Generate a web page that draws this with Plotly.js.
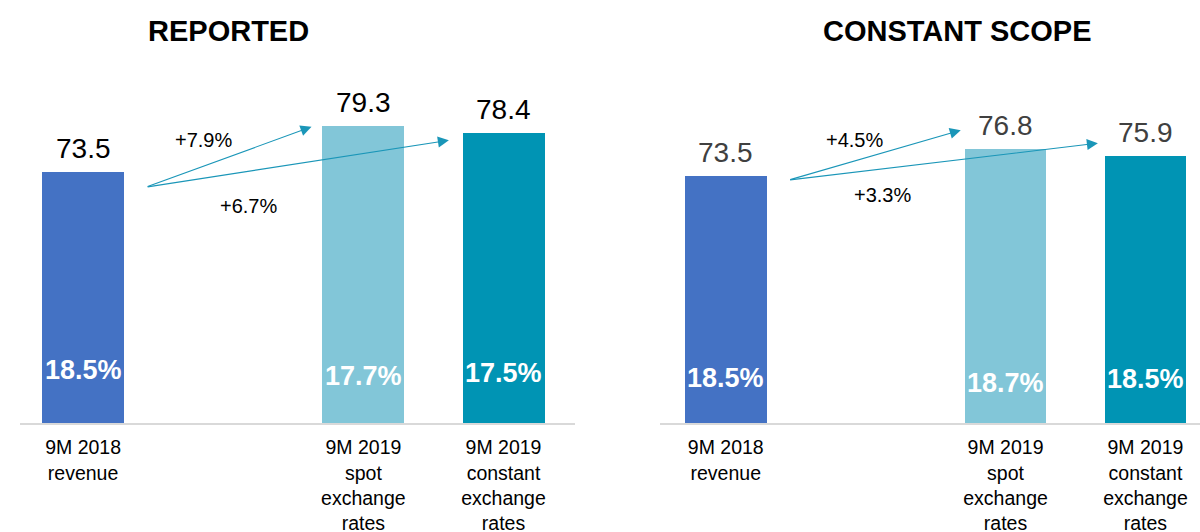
<!DOCTYPE html>
<html>
<head>
<meta charset="utf-8">
<script src="https://cdn.plot.ly/plotly-3.0.1.min.js"></script>
<style>html,body{margin:0;padding:0;background:#fff}#chart{width:1200px;height:532px}</style>
</head>
<body>
<div id="chart"></div>
<script>
// ---- data ----
const positions = [0, 2, 3];
const categories = ["9M 2018<br>revenue", "9M 2019<br>spot<br>exchange<br>rates", "9M 2019<br>constant<br>exchange<br>rates"];
const reportedRevenue = [73.5, 79.3, 78.4];
const reportedMargin = ["18.5%", "17.7%", "17.5%"];
const reportedGrowth = ["+7.9%", "+6.7%"];
const scopeRevenue = [73.5, 76.8, 75.9];
const scopeMargin = ["18.5%", "18.7%", "18.5%"];
const scopeGrowth = ["+4.5%", "+3.3%"];
const panelTitles = ["REPORTED", "CONSTANT SCOPE"];
const barColors = ["#4472c4", "#82c6d8", "#0094b4"];

const FONT = "Liberation Sans, Arial, sans-serif";
const arrowColor = "#1a96b8";

const traces = [
  {type: "bar", x: positions, y: reportedRevenue, width: 0.585, marker: {color: barColors},
   xaxis: "x", yaxis: "y", hoverinfo: "none"},
  {type: "bar", x: positions, y: scopeRevenue, width: 0.585, marker: {color: barColors},
   xaxis: "x2", yaxis: "y2", hoverinfo: "none"}
];

const ann = [];
function panel(xa, ya, vals, margins, growth, valColor, marginY, arrows, growthPos) {
  vals.forEach((v, i) => {
    ann.push({xref: xa, yref: ya, x: positions[i], y: v, text: v.toFixed(1), showarrow: false,
      yanchor: "bottom", yshift: 6, font: {family: FONT, size: 28, color: valColor}});
    ann.push({xref: xa, yref: ya + " domain", x: positions[i], y: marginY[i], text: "<b>" + margins[i] + "</b>",
      showarrow: false, yanchor: "middle", font: {family: FONT, size: 27, color: "#ffffff"}});
  });
  arrows.forEach((a, j) => {
    ann.push({xref: xa, yref: ya, axref: xa, ayref: ya, x: a[2], y: a[3], ax: a[0], ay: a[1],
      text: "", showarrow: true, arrowhead: 2, arrowsize: 2.0, arrowwidth: 1.1, arrowcolor: arrowColor});
    ann.push({xref: xa, yref: ya, x: growthPos[j][0], y: growthPos[j][1], text: growth[j], showarrow: false,
      font: {family: FONT, size: 20, color: "#000"}});
  });
}
panel("x", "y", reportedRevenue, reportedMargin, reportedGrowth, "#000000",
  [0.145, 0.13, 0.137],
  [[0.45, 71.6, 1.63, 79.2], [0.45, 71.6, 2.61, 77.5]],
  [[0.86, 77.5], [1.18, 69.2]]);
panel("x2", "y2", scopeRevenue, scopeMargin, scopeGrowth, "#404040",
  [0.125, 0.11, 0.12],
  [[0.45, 73.0, 1.68, 79.1], [0.45, 73.0, 2.66, 77.5]],
  [[0.92, 77.9], [1.12, 71.2]]);

const titleY = (423 - 31) / 363;
ann.push({xref: "paper", yref: "paper", x: 228/1200, y: titleY, text: "<b>" + panelTitles[0] + "</b>",
  showarrow: false, xanchor: "center", yanchor: "middle", font: {family: FONT, size: 29, color: "#000"}});
ann.push({xref: "paper", yref: "paper", x: 957/1200, y: titleY, text: "<b>" + panelTitles[1] + "</b>",
  showarrow: false, xanchor: "center", yanchor: "middle", font: {family: FONT, size: 29, color: "#000"}});

const xcommon = {tickvals: positions, ticktext: categories, showgrid: false, zeroline: false,
  showline: true, linecolor: "#d9d9d9", linewidth: 2, ticks: "", fixedrange: true, ticklabelstandoff: 6,
  tickfont: {family: FONT, size: 19.5, color: "#000"}};
const ycommon = {visible: false, showgrid: false, zeroline: false, fixedrange: true};

const layout = {
  width: 1200, height: 532, showlegend: false, bargap: 0,
  paper_bgcolor: "#fff", plot_bgcolor: "#fff",
  margin: {l: 0, r: 0, t: 60, b: 109},
  xaxis: Object.assign({}, xcommon, {domain: [20/1200, 575/1200], range: [-0.45, 3.51], anchor: "y"}),
  xaxis2: Object.assign({}, xcommon, {domain: [660/1200, 1], range: [-0.47, 3.39], anchor: "y2"}),
  yaxis: Object.assign({}, ycommon, {range: [41.85, 41.85 + 363/7.93], anchor: "x"}),
  yaxis2: Object.assign({}, ycommon, {range: [43.3, 43.3 + 363/8.18], anchor: "x2"}),
  annotations: ann
};
Plotly.newPlot("chart", traces, layout, {staticPlot: true, displayModeBar: false});
</script>
</body>
</html>
